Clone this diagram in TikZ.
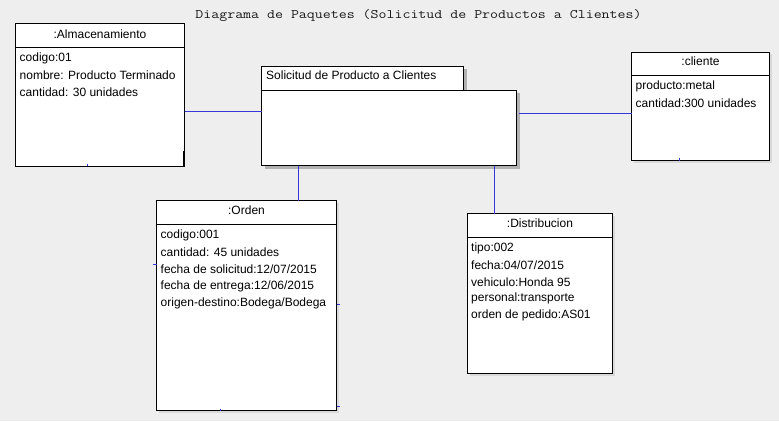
\documentclass[tikz,border=0pt]{standalone}
\usepackage{fontspec}
\setmainfont{Liberation Sans}
\newfontfamily\monofont[FakeStretch=1.19]{Latin Modern Mono}
\definecolor{bg}{RGB}{238,238,238}
\definecolor{conn}{RGB}{55,55,215}
\begin{document}
\begin{tikzpicture}[x=1pt,y=-1pt,
  box/.style={draw=black, fill=white, line width=1pt, anchor=north west, inner sep=0, outer sep=0},
  shad/.style={fill=black!15, draw=none},
  attr/.style={anchor=west, inner sep=0, font=\fontsize{12}{14}\selectfont},
  ttl/.style={inner sep=0, font=\fontsize{12}{14}\selectfont},
  link/.style={draw=conn, line width=1.1pt},
  tick/.style={draw=conn, line width=0.8pt}]
\useasboundingbox[fill=bg] (0,0) rectangle (779,421);
% title
\node[inner sep=0, font=\monofont\fontsize{13}{15}\selectfont, text=black!90] (title) at (418.5,15.5) {Diagrama de Paquetes (Solicitud de Productos a Clientes)};

% shadows
\fill[black!30] (264.5,69) rectangle (466.5,93);
\fill[black!30] (264.5,93) rectangle (519.5,168.5);
\fill[shad] (633.5,54) rectangle (771.5,162.5);
\fill[shad] (158.5,202.5) rectangle (338.5,412.5);
\fill[shad] (469.5,215.5) rectangle (614.5,375.5);

% Almacenamiento
\node[box, minimum width=169pt, minimum height=142.5pt] (alm) at (15.5,23.5) {};
\draw[line width=1pt] (alm.west |- 0,47.5) -- (alm.east |- 0,47.5);
\node[ttl] (almT) at (100,34) {:Almacenamiento};
\node[attr] (alm1) at (19.5,58.5) {codigo:01};
\node[attr] (alm2) at (19.5,75.5) {nombre: Producto Terminado};
\node[attr] (alm3) at (19.5,92.5) {cantidad: 30 unidades};

% Package
\node[box, minimum width=202pt, minimum height=24pt] (soltab) at (261.5,66) {};
\node[box, minimum width=255pt, minimum height=75.5pt] (sol) at (261.5,90) {};
\node[attr] (solT) at (266,75.5) {Solicitud de Producto a Clientes};

% cliente
\node[box, minimum width=138pt, minimum height=108.5pt] (cli) at (631.5,52) {};
\draw[line width=1pt] (cli.west |- 0,75.5) -- (cli.east |- 0,75.5);
\node[ttl] (cliT) at (700.5,61) {:cliente};
\node[attr] (cli1) at (635.5,86) {producto:metal};
\node[attr] (cli2) at (635.5,103) {cantidad:300 unidades};

% Orden
\node[box, minimum width=180pt, minimum height=210pt] (ord) at (156.5,200.5) {};
\draw[line width=1pt] (ord.west |- 0,224) -- (ord.east |- 0,224);
\node[ttl] (ordT) at (246.5,210.5) {:Orden};
\node[attr] (ord1) at (160.5,235) {codigo:001};
\node[attr] (ord2) at (160.5,252) {cantidad: 45 unidades};
\node[attr] (ord3) at (160.5,269) {fecha de solicitud:12/07/2015};
\node[attr] (ord4) at (160.5,286) {fecha de entrega:12/06/2015};
\node[attr] (ord5) at (160.5,303) {origen-destino:Bodega/Bodega};

% Distribucion
\node[box, minimum width=145pt, minimum height=160pt] (dis) at (467.5,213.5) {};
\draw[line width=1pt] (dis.west |- 0,237.5) -- (dis.east |- 0,237.5);
\node[ttl] (disT) at (540,223) {:Distribucion};
\node[attr] (dis1) at (471,248.5) {tipo:002};
\node[attr] (dis2) at (471,265.5) {fecha:04/07/2015};
\node[attr] (dis3) at (471,282) {vehiculo:Honda 95};
\node[attr] (dis4) at (471,298.5) {personal:transporte};
\node[attr] (dis5) at (471,315) {orden de pedido:AS01};

% connectors
\draw[link] (alm.east |- 0,111.5) -- (sol.west |- 0,111.5);
\draw[link] (519,113.5) -- (cli.west |- 0,113.5);
\draw[link] (298.5,165.5) -- (ord.north -| 298.5,0);
\draw[link] (494.5,165.5) -- (dis.north -| 494.5,0);

% small ticks
\draw[tick] (87,163.5) -- (87,165.5);
\draw[black, line width=1.3pt] (183.5,151) -- (183.5,166);
\draw[tick] (679,157.5) -- (679,160.5);
\draw[tick] (153,264) -- (156.5,264);
\draw[tick] (336.5,304.5) -- (339.5,304.5);
\draw[tick] (336.5,406) -- (339.5,406);
\draw[tick] (220,408.5) -- (220,410.5);
\end{tikzpicture}
\end{document}
